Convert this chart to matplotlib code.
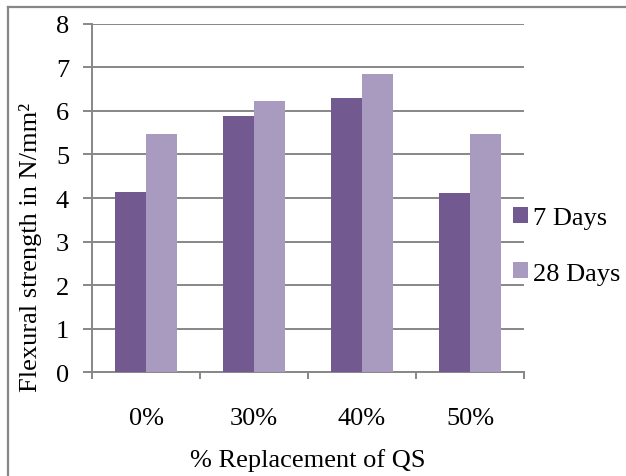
"""Flexural strength vs % replacement of QS — clustered bar chart."""

import matplotlib

matplotlib.use("Agg")
import matplotlib.pyplot as plt
from matplotlib.lines import Line2D
import numpy as np

categories = ["0%", "30%", "40%", "50%"]
days_7 = [4.13, 5.89, 6.30, 4.11]
days_28 = [5.47, 6.22, 6.84, 5.48]
series_labels = ["7 Days", "28 Days"]

plt.rcParams["font.family"] = ["Liberation Serif", "DejaVu Serif"]
plt.rcParams["font.size"] = 19

DARK = "#72598F"
LIGHT = "#A99BC0"
GRID = "#878787"

fig = plt.figure(figsize=(6.26, 4.77), dpi=100)
ax = fig.add_axes((0.147, 0.2174, 0.690, 0.7308))

x = np.arange(len(categories))
w = 0.285
ax.bar(x - w / 2, days_7, width=w, color=DARK, label=series_labels[0], zorder=3)
ax.bar(x + w / 2, days_28, width=w, color=LIGHT, label=series_labels[1], zorder=3)

ax.set_xlim(-0.5, len(categories) - 0.5)
ax.set_ylim(0, 8)
ax.set_yticks(range(0, 9))
ax.set_xticks(x)
ax.set_xticklabels(categories)
ax.set_xticks(np.arange(-0.5, len(categories)), minor=True)

ax.grid(axis="y", color=GRID, lw=1.4, zorder=0)
for side in ("top", "right"):
    ax.spines[side].set_visible(False)
for side in ("left", "bottom"):
    ax.spines[side].set_color(GRID)
    ax.spines[side].set_linewidth(1.4)

ax.tick_params(axis="y", length=6.5, width=1.4, color=GRID, pad=10)
ax.tick_params(axis="x", which="major", length=0, pad=25)
ax.tick_params(axis="x", which="minor", length=5, width=1.4, color=GRID)

ax.set_ylabel("Flexural strength in N/mm²")
ax.yaxis.set_label_coords(-0.115, 0.362)
ax.set_xlabel("% Replacement of QS")
ax.xaxis.set_label_coords(0.5, -0.218)

ax.legend(
    loc="center left",
    bbox_to_anchor=(0.975, 0.363),
    frameon=False,
    borderpad=0,
    handlelength=0.57,
    handleheight=0.57,
    handletextpad=0.2,
    labelspacing=1.25,
    borderaxespad=0,
)

# chart-area border (only top and left visible in the crop)
fig.add_artist(Line2D([8 / 626, 1], [1 - 8 / 477] * 2, transform=fig.transFigure, color=GRID, lw=1.6))
fig.add_artist(Line2D([8 / 626] * 2, [0, 1 - 8 / 477], transform=fig.transFigure, color=GRID, lw=1.6))

fig.savefig("out.png", dpi=100)
plt.close(fig)
